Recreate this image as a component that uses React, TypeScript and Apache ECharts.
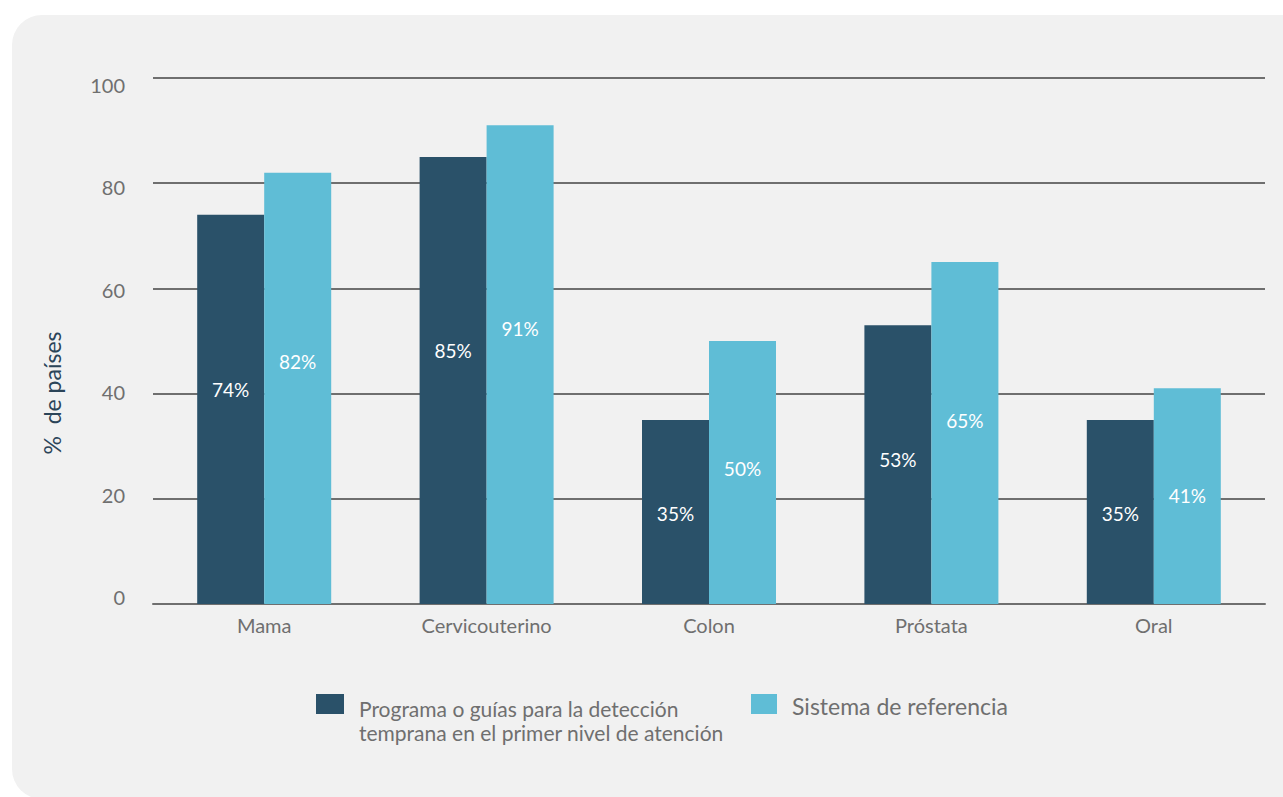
import React, { useEffect, useRef } from "react";
import * as echarts from "echarts";

const categories = ["Mama", "Cervicouterino", "Colon", "Próstata", "Oral"];
const programaValues = [74, 85, 35, 53, 35];
const referenciaValues = [82, 91, 50, 65, 41];
const seriesNames = [
  "Programa o guías para la detección\ntemprana en el primer nivel de atención",
  "Sistema de referencia",
];
const yTicks = [0, 20, 40, 60, 80, 100];
const yAxisName = "%  de países";

const FONT = "Lato";
const DARK = "#2a5169";
const LIGHT = "#5fbdd6";
const GRAY = "#6f6f6f";

function withLabelPos(values: number[]) {
  return values.map((v) => ({
    value: v,
    label: { position: ["50%", `${(0.56 - 0.0015 * v) * 100}%`] },
  }));
}

function richName(name: string) {
  return "{s| }\n" + name.split("\n").map((l) => `{t|${l}}`).join("\n");
}

export default function App() {
  const ref = useRef<HTMLDivElement>(null);
  useEffect(() => {
    if (!ref.current) return;
    const chart = echarts.init(ref.current, null, { renderer: "svg" });
    const labelCfg = {
      show: true,
      color: "#ffffff",
      fontFamily: FONT,
      fontSize: 19,
      align: "center",
      verticalAlign: "middle",
      formatter: (p: any) => `${p.value}%`,
    };
    const yMin = yTicks[0];
    const yMax = yTicks[yTicks.length - 1];
    chart.setOption({
      animation: false,
      backgroundColor: "#ffffff",
      graphic: [
        {
          type: "rect",
          z: -10,
          silent: true,
          shape: { x: 12, y: 15, width: 1300, height: 784, r: 30 },
          style: { fill: "#f1f1f1" },
        },
      ],
      grid: { left: 153, right: 18, top: 78, bottom: 193, containLabel: false },
      legend: [
        {
          data: [seriesNames[0]],
          left: 316,
          top: 675,
          padding: 0,
          itemWidth: 28,
          itemHeight: 20,
          icon: "rect",
          formatter: (name: string) => richName(name),
          textStyle: {
            color: GRAY,
            fontFamily: FONT,
            fontSize: 21,
            rich: {
              s: { lineHeight: 32, fontSize: 10, fontFamily: FONT },
              t: { lineHeight: 24, fontSize: 21, color: GRAY, fontFamily: FONT, padding: [0, 0, 0, 10] },
            },
          },
        },
        {
          data: [seriesNames[1]],
          left: 751,
          top: 688,
          padding: 0,
          itemWidth: 26,
          itemHeight: 20,
          icon: "rect",
          formatter: (name: string) => "{s| }\n{t|" + name + "}",
          textStyle: {
            color: GRAY,
            fontFamily: FONT,
            fontSize: 23,
            rich: {
              s: { lineHeight: 4, fontSize: 4, fontFamily: FONT },
              t: { lineHeight: 28, fontSize: 23, color: GRAY, fontFamily: FONT, padding: [0, 0, 0, 10] },
            },
          },
        },
      ],
      xAxis: {
        type: "category",
        data: categories,
        axisLine: { show: true, lineStyle: { color: GRAY, width: 2 } },
        axisTick: { show: false },
        axisLabel: { color: GRAY, fontFamily: FONT, fontSize: 20, margin: 11 },
      },
      yAxis: [
        {
          type: "value",
          min: yMin,
          max: yMax,
          interval: 20,
          name: yAxisName,
          nameLocation: "middle",
          nameGap: 90,
          nameTextStyle: {
            color: "#2b4458",
            fontFamily: FONT,
            fontSize: 23,
            padding: [0, 104, 0, 0],
          },
          axisLine: { show: false },
          axisTick: { show: false },
          axisLabel: { show: false },
          splitLine: { show: true, lineStyle: { color: GRAY, width: 2 } },
        },
        {
          type: "value",
          position: "left",
          min: yMin - 1.367,
          max: yMax + 1.367,
          axisLine: { show: false },
          axisTick: { show: false },
          splitLine: { show: false },
          axisLabel: {
            customValues: yTicks,
            color: GRAY,
            fontFamily: FONT,
            fontSize: 20,
            margin: 28,
          },
        },
      ],
      series: [
        {
          name: seriesNames[0],
          type: "bar",
          data: withLabelPos(programaValues),
          barWidth: 67,
          barGap: "0%",
          itemStyle: { color: DARK },
          label: labelCfg,
        },
        {
          name: seriesNames[1],
          type: "bar",
          data: withLabelPos(referenciaValues),
          barWidth: 67,
          barGap: "0%",
          itemStyle: { color: LIGHT },
          label: labelCfg,
        },
      ],
    });
    return () => chart.dispose();
  }, []);
  return (
    <div
      ref={ref}
      style={{ position: "fixed", left: 0, top: 0, width: 1283, height: 797 }}
    />
  );
}
